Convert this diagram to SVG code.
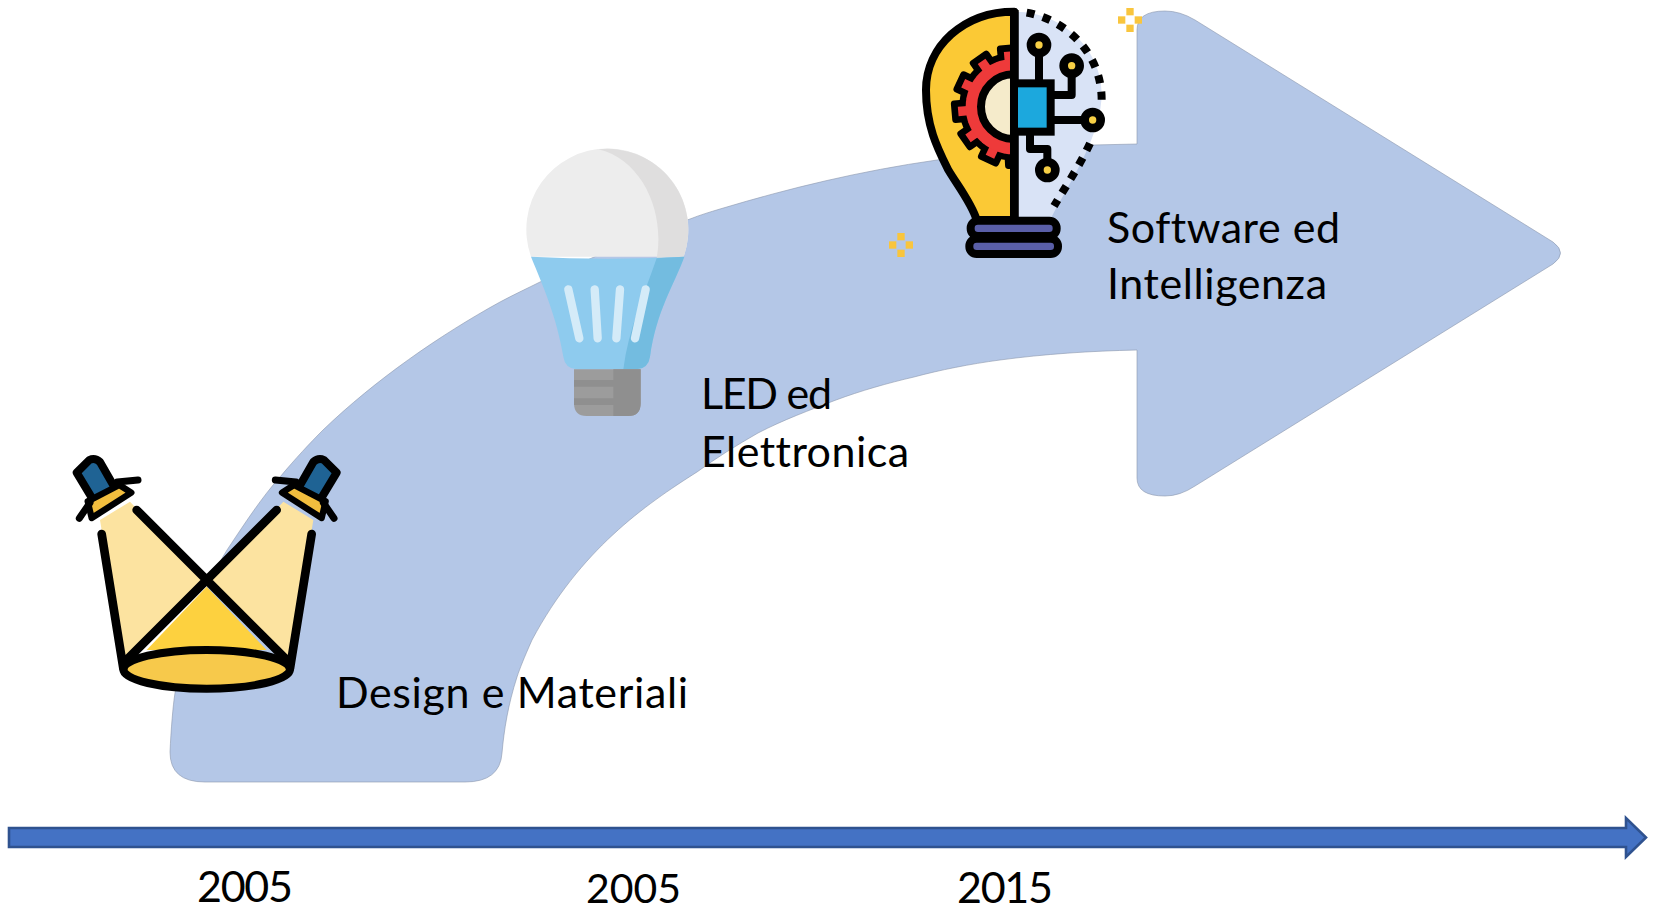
<svg xmlns="http://www.w3.org/2000/svg" xmlns:xlink="http://www.w3.org/1999/xlink" width="1656" height="911" viewBox="0 0 1656 911">
<style>
text{font-family:"Lato","Open Sans","Liberation Sans",sans-serif;font-size:43px;fill:#000;font-variant-ligatures:none}
.yr{font-size:40px}
.k{fill:none;stroke:#000;stroke-linecap:round;stroke-linejoin:round}
.sq{fill:#F9C53D}
.dot{fill:#F7CF45}
.bar{fill:none;stroke:#D4EBF8;stroke-width:25;stroke-linecap:round}
</style>
<defs>
<g id="sparkle"><rect class="sq" x="-11" y="-36" width="22" height="22"/><rect class="sq" x="-36" y="-11" width="22" height="22"/><rect class="sq" x="14" y="-11" width="22" height="22"/><rect class="sq" x="-11" y="14" width="22" height="22"/></g>
<g id="lamp">
<path d="M110 128 L148 90 Q165 82 180 96 L226 176 L162 214 Z" fill="#1F6394" stroke="#000" stroke-width="24" stroke-linejoin="round"/>
<path d="M143 214 L238 165 L274 188 L155 264 Z" fill="#F2BE3E" stroke="#000" stroke-width="19" stroke-linejoin="round"/>
<path class="k" stroke-width="21" d="M232 156 L294 150 M118 265 L150 218"/>
</g>
<rect id="tooth" x="-24" y="-176" width="48" height="50" fill="#EE3A3A" stroke="#000" stroke-width="20" stroke-linejoin="round"/>
<clipPath id="halfgear"><rect x="150" y="100" width="250" height="440"/></clipPath>
</defs>
<g id="flow-arrow">
<path fill="#B4C7E7" stroke="#8C97AC" stroke-width="0.6" d="M170 752 C171 730 173 705 175 693 C185 640 205 585 227 550 C245 523 262 497 280 477 C295 459 310 443 323 430 C375 380 440 335 500 302 C515 294 528 288 540 282 C590 258 640 236 690 219 C700 215 710 212 720 209 C790 188 860 171 937 160 C990 152 1040 147 1093 145 L1137 144 L1137 30 Q1137 11 1165 11 Q1180 11 1195 20 L1553 242 Q1568 253 1553 264 L1195 486 Q1180 496 1165 496 Q1137 496 1137 478 L1137 350 C1090 351 1045 354 1000 360 C970 364 940 370 914 377 C888 383 860 391 836 400 C810 410 783 420 758 433 C737 445 716 458 697 472 C645 505 580 550 532 640 C524 658 520 668 517 677 C508 705 504 730 502 753 Q500 782 465 782 L205 782 Q170 782 170 752 Z"/>
</g>
<g id="connectors">
<polygon fill="#4472C4" stroke="#2F528F" stroke-width="2.6" points="9,828 1626,828 1626,818 1646,837.500 1626,857 1626,847 9,847"/>
</g>
<g id="spotlights" transform="translate(40 430) scale(.33333)">
<path fill="#FCE3A0" d="M180 270 L270 215 L500 460 L250 700 Z M820 270 L730 215 L500 460 L750 700 Z"/>
<path fill="#FDD13F" d="M500 470 L320 660 L680 660 Z"/>
<ellipse cx="500" cy="718" rx="250" ry="58" fill="#F7C94B" stroke="#000" stroke-width="24"/>
<path class="k" stroke-width="26" d="M290 240 L745 695 M710 240 L255 695 M185 312 L250 715 M815 312 L750 715"/>
<use xlink:href="#lamp" href="#lamp"/>
<use xlink:href="#lamp" href="#lamp" transform="translate(1000 0) scale(-1 1)"/>
</g>
<g id="led-bulb" transform="translate(500 130) scale(.33333)">
<path fill="#EDEDED" d="M93 380 A243 243 0 1 1 551 380 Z"/>
<path fill="#DFDEDE" d="M295 58 A243 243 0 0 1 551 380 L470 385 C495 250 430 90 295 58 Z"/>
<path fill="#8ECBEE" d="M93 380 Q322 392 553 380 C520 470 470 540 450 680 Q445 715 410 718 L230 718 Q195 715 190 680 C170 560 130 470 93 380 Z"/>
<path fill="#73BCE0" d="M553 380 L470 385 C430 500 385 600 370 718 L410 718 Q445 715 450 680 C470 540 520 470 553 380 Z"/>
<path class="bar" d="M205 478 L238 625 M284 478 L293 625 M360 478 L349 625 M437 478 L405 625"/>
<path fill="#9C9C9C" d="M222 718 H422 V820 Q422 858 385 858 H260 Q222 858 222 820 Z"/>
<path fill="#8F8F8F" d="M340 718 H422 V820 Q422 858 385 858 H340 Z M222 750 H340 V770 H222 Z M222 805 H340 V825 H222 Z"/>
</g>
<g id="ai-bulb" transform="translate(880 0) scale(.33333)">
<path fill="#D9E3F6" d="M403 35 C550 35 665 150 665 280 C665 400 580 530 515 650 L403 650 Z"/>
<path fill="#FBC935" stroke="#000" stroke-width="24" stroke-linejoin="round" d="M403 35 C250 35 138 140 138 270 C138 380 175 450 205 510 C235 560 275 610 290 660 L403 660 Z"/>
<g clip-path="url(#halfgear)">
<g transform="translate(400 320)">
<circle r="152" fill="#EE3A3A" stroke="#000" stroke-width="20"/>
<use xlink:href="#tooth" href="#tooth" transform="rotate(-5)"/>
<use xlink:href="#tooth" href="#tooth" transform="rotate(-35)"/>
<use xlink:href="#tooth" href="#tooth" transform="rotate(-65)"/>
<use xlink:href="#tooth" href="#tooth" transform="rotate(-95)"/>
<use xlink:href="#tooth" href="#tooth" transform="rotate(-125)"/>
<use xlink:href="#tooth" href="#tooth" transform="rotate(-155)"/>
<use xlink:href="#tooth" href="#tooth" transform="rotate(-183)"/>
<circle r="143" fill="#EE3A3A"/>
<circle r="97" fill="#F5EBCB" stroke="#000" stroke-width="24"/>
</g>
</g>
<path fill="none" stroke="#000" stroke-width="24" stroke-dasharray="24 26" d="M440 38 C560 60 665 160 665 300"/>
<path fill="none" stroke="#000" stroke-width="24" stroke-dasharray="24 25" d="M630 430 C600 495 560 555 522 618"/>
<path fill="none" stroke="#000" stroke-width="26" d="M403 30 V660"/>
<path fill="none" stroke="#000" stroke-width="24" stroke-linejoin="round" d="M477 135 V250 M575 197 V285 H512 M512 360 H638 M450 395 V447 H502 V510"/>
<rect x="402" y="250" width="110" height="145" fill="#1CA8DD" stroke="#000" stroke-width="24"/>
<circle cx="477" cy="135" r="24" class="dot" stroke="#000" stroke-width="26"/>
<circle cx="575" cy="197" r="24" class="dot" stroke="#000" stroke-width="26"/>
<circle cx="638" cy="360" r="24" class="dot" stroke="#000" stroke-width="26"/>
<circle cx="502" cy="510" r="24" class="dot" stroke="#000" stroke-width="26"/>
<rect x="272" y="662" width="258" height="46" rx="22" fill="#5A5FA8" stroke="#000" stroke-width="24"/>
<rect x="268" y="716" width="266" height="46" rx="22" fill="#5A5FA8" stroke="#000" stroke-width="24"/>
</g>
<g id="sparkle-top"><use xlink:href="#sparkle" href="#sparkle" transform="translate(1130 20) scale(.33333)"/></g>
<g id="sparkle-mid"><use xlink:href="#sparkle" href="#sparkle" transform="translate(901 245) scale(.33333)"/></g>
<g id="labels">
<text x="336" y="708" textLength="352">Design e Materiali</text>
<text x="701" y="409" textLength="131">LED ed</text>
<text x="701" y="467" textLength="208">Elettronica</text>
<text x="1107" y="243" textLength="233">Software ed</text>
<text x="1107" y="299" textLength="220">Intelligenza</text>
<text x="197" y="902" textLength="96">2005</text>
<text class="yr" x="586" y="903" textLength="95" lengthAdjust="spacingAndGlyphs">2005</text>
<text x="957" y="903" textLength="96">2015</text>
</g>
</svg>
